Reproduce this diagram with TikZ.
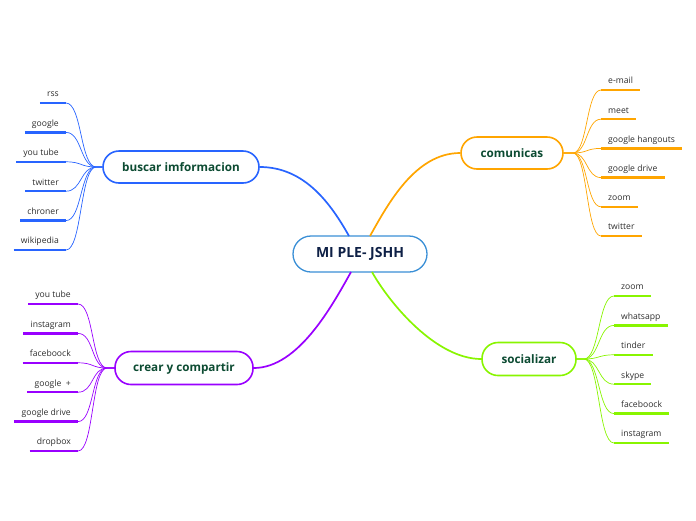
\documentclass[tikz,border=0pt]{standalone}
\usepackage{fontspec}
\setmainfont{Open Sans}
\definecolor{cblue}{RGB}{40,100,255}
\definecolor{cpurple}{RGB}{153,0,255}
\definecolor{corange}{RGB}{255,165,0}
\definecolor{cgreen}{RGB}{136,245,0}
\definecolor{cmain}{RGB}{58,143,214}
\definecolor{ctext}{RGB}{12,75,50}
\definecolor{cnavy}{RGB}{14,32,70}
\definecolor{cleaf}{RGB}{45,45,45}
\tikzset{
  topic/.style={draw, line width=1.6pt, fill=white, rounded corners=16pt, inner sep=0pt,
    font=\fontsize{11.7}{13}\selectfont\bfseries, text=ctext},
  central/.style={draw=cmain, line width=1.3pt, fill=white, rounded corners=18pt, inner sep=0pt,
    minimum width=134, minimum height=36, font=\fontsize{14}{16}\selectfont\bfseries, text=cnavy},
  leaf/.style={inner xsep=7pt, inner ysep=4pt, text height=6.5pt, text depth=2pt,
    font=\fontsize{8.6}{10}\selectfont, text=cleaf},
  leafline/.style={line width=2.3pt},
  twig/.style={line width=0.7pt},
  branch/.style={line width=1.7pt},
}
\begin{document}
\begin{tikzpicture}[x=1pt,y=-1pt]
\useasboundingbox (0,0) rectangle (696,520);
\node[central] (c) at (360,254) {MI PLE- JSHH};
\node[topic, draw=cblue, minimum width=156, minimum height=32] (b) at (181,167) {buscar imformacion};
\node[topic, draw=cpurple, minimum width=138, minimum height=33] (k) at (184,368) {crear y compartir};
\node[topic, draw=corange, minimum width=102, minimum height=32] (m) at (512,153) {comunicas};
\node[topic, draw=cgreen, minimum width=94, minimum height=33] (s) at (529,359) {socializar};
% junction points
\coordinate (bj) at ([xshift=-6]b.west);
\coordinate (kj) at ([xshift=-7]k.west);
\coordinate (mj) at ([xshift=9]m.east);
\coordinate (sj) at ([xshift=7]s.east);
% central attachment points
\coordinate (ctl) at (349,236);
\coordinate (ctr) at (370,236);
\coordinate (cbl) at (351,272);
\coordinate (cbr) at (372,272);
% main branches
\draw[branch, cblue] (b.east) .. controls +(45,0) and +(-18,-32) .. (ctl);
\draw[branch, corange] (m.west) .. controls +(-45,0) and +(18,-32) .. (ctr);
\draw[branch, cpurple] (k.east) .. controls +(45,0) and +(-18,32) .. (cbl);
\draw[branch, cgreen] (s.west) .. controls +(-45,0) and +(18,32) .. (cbr);
% buscar leaves
\foreach \t [count=\i] in {rss,google,you tube,twitter,chroner,wikipedia}{
  \node[leaf, anchor=south east] (b\i) at (66,{103+29.4*(\i-1)}) {\t};
  \draw[leafline, cblue] (b\i.south west) -- (b\i.south east);
  \draw[twig, cblue] (b\i.south east) .. controls +(16,0) and +(-16,0) .. (bj) -- (b.west);
}
% crear leaves
\foreach \t [count=\i] in {you tube,instagram,faceboock,google\ \ +,google drive,dropbox}{
  \node[leaf, anchor=south east] (k\i) at (78,{304+29.4*(\i-1)}) {\t};
  \draw[leafline, cpurple] (k\i.south west) -- (k\i.south east);
  \draw[twig, cpurple] (k\i.south east) .. controls +(16,0) and +(-16,0) .. (kj) -- (k.west);
}
% comunicas leaves
\foreach \t [count=\i] in {e-mail,meet,google hangouts,google drive,zoom,twitter}{
  \node[leaf, anchor=south west] (m\i) at (601,{90+29.2*(\i-1)}) {\t};
  \draw[leafline, corange] (m\i.south west) -- (m\i.south east);
  \draw[twig, corange] (m\i.south west) .. controls +(-15,0) and +(15,0) .. (mj) -- (m.east);
}
% socializar leaves
\foreach \t [count=\i] in {zoom,whatsapp,tinder,skype,faceboock,instagram}{
  \node[leaf, anchor=south west] (s\i) at (614,{296+29.4*(\i-1)}) {\t};
  \draw[leafline, cgreen] (s\i.south west) -- (s\i.south east);
  \draw[twig, cgreen] (s\i.south west) .. controls +(-16,0) and +(16,0) .. (sj) -- (s.east);
}
\end{tikzpicture}
\end{document}
